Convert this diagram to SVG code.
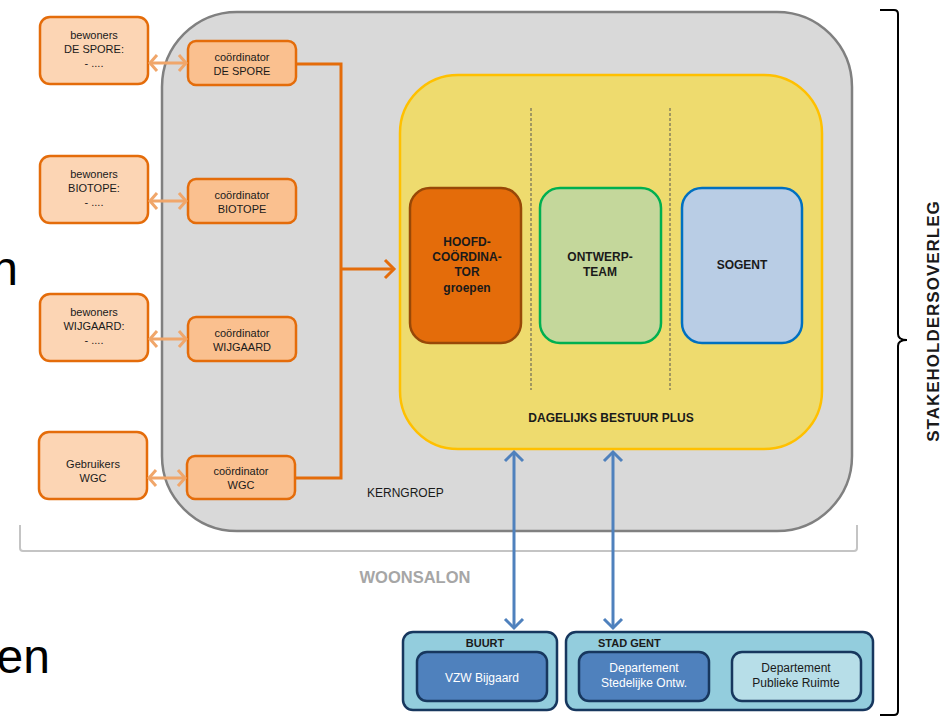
<svg xmlns="http://www.w3.org/2000/svg" width="949" height="719" viewBox="0 0 949 719">
<style>
text{font-family:"Liberation Sans",Arial,sans-serif;fill:#1a1a1a}
.s11{font-size:11px}
.b12{font-size:12px;font-weight:bold}
.r12{font-size:12px}
.bew{fill:#fcd5b4;stroke:#e46c0a;stroke-width:2.5}
.coo{fill:#fac08f;stroke:#e46c0a;stroke-width:2.5}
.dbl{stroke:#f0a66a;stroke-width:3;fill:none}
.bus{stroke:#e46c0a;stroke-width:3;fill:none}
.blu{stroke:#4f81bd;stroke-width:3;fill:none}
.outer{fill:#93cddd;stroke:#17375e;stroke-width:2.5}
.inner{fill:#4f81bd;stroke:#17375e;stroke-width:2.5}
.inner2{fill:#b7dee8;stroke:#17375e;stroke-width:2.5}
.wt{fill:#ffffff}
.lbl{font-size:11px;font-weight:bold}
</style>
<defs>
<marker id="ao" markerUnits="userSpaceOnUse" markerWidth="14" markerHeight="22" refX="9" refY="10" orient="auto-start-reverse">
<path d="M2,2 L9,10 L2,18" fill="none" stroke="#f0a66a" stroke-width="3"/>
</marker>
<marker id="abus" markerUnits="userSpaceOnUse" markerWidth="16" markerHeight="24" refX="11" refY="11" orient="auto">
<path d="M2,2 L11,11 L2,20" fill="none" stroke="#e46c0a" stroke-width="3"/>
</marker>
<marker id="ab" markerUnits="userSpaceOnUse" markerWidth="16" markerHeight="24" refX="11" refY="11" orient="auto-start-reverse">
<path d="M2,2 L11,11 L2,20" fill="none" stroke="#4f81bd" stroke-width="3"/>
</marker>
</defs>
<rect width="949" height="719" fill="#ffffff"/>

<!-- partial texts at left edge -->
<text x="18" y="285" text-anchor="end" style="font-size:48px;fill:#000">n</text>
<text x="50" y="673" text-anchor="end" style="font-size:48px;fill:#000">en</text>

<!-- woonsalon bracket -->
<g id="woonsalon">
<path d="M20,525 V548 Q20,551 23,551 H854 Q857,551 857,548 V525" fill="none" stroke="#c4c4c4" stroke-width="2"/>
<text x="415" y="583" text-anchor="middle" style="font-size:16.5px;font-weight:bold;fill:#a6a6a6">WOONSALON</text>
</g>

<!-- stakeholdersoverleg brace -->
<g id="stakeholdersoverleg">
<path d="M880,10 H894 Q898,10 898,14 V334 Q898,340 907,340 Q898,340 898,346 V711 Q898,715 894,715 H880" fill="none" stroke="#000" stroke-width="2"/>
<text transform="translate(939,321) rotate(-90)" text-anchor="middle" style="font-size:17px;font-weight:bold;letter-spacing:1px">STAKEHOLDERSOVERLEG</text>
</g>

<!-- kerngroep -->
<g id="kerngroep">
<rect x="162" y="12" width="690" height="519" rx="75" fill="#d9d9d9" stroke="#808080" stroke-width="2.5"/>
<text x="367" y="497" class="r12">KERNGROEP</text>
</g>

<!-- dagelijks bestuur plus -->
<g id="dagelijks-bestuur">
<rect x="400" y="75" width="422" height="374" rx="58" fill="#eedb6e" stroke="#ffc000" stroke-width="2.5"/>
<line x1="531" y1="108" x2="531" y2="390" stroke="#555" stroke-width="1" stroke-dasharray="3,2"/>
<line x1="670" y1="108" x2="670" y2="390" stroke="#555" stroke-width="1" stroke-dasharray="3,2"/>
<text x="611" y="422" text-anchor="middle" class="b12">DAGELIJKS BESTUUR PLUS</text>
</g>

<g id="hoofdcoordinator">
<rect x="410" y="188" width="111" height="155" rx="20" fill="#e46c0a" stroke="#984807" stroke-width="2.5"/>
<text x="467" text-anchor="middle" class="b12"><tspan x="467" y="246">HOOFD-</tspan><tspan x="467" y="261">COÖRDINA-</tspan><tspan x="467" y="276">TOR</tspan><tspan x="467" y="292">groepen</tspan></text>
</g>
<g id="ontwerpteam">
<rect x="540" y="188" width="121" height="155" rx="20" fill="#c4d79b" stroke="#00b050" stroke-width="2.5"/>
<text x="600" text-anchor="middle" class="b12"><tspan x="600" y="261">ONTWERP-</tspan><tspan x="600" y="276">TEAM</tspan></text>
</g>
<g id="sogent">
<rect x="682" y="188" width="120" height="155" rx="20" fill="#b9cde5" stroke="#0070c0" stroke-width="2.5"/>
<text x="742" y="269" text-anchor="middle" class="b12">SOGENT</text>
</g>

<!-- bewoners boxes -->
<g id="bewoners-despore">
<rect x="40" y="17" width="108" height="67" rx="10" class="bew"/>
<text text-anchor="middle" class="s11"><tspan x="94" y="39">bewoners</tspan><tspan x="94" y="53">DE SPORE:</tspan><tspan x="94" y="67">- ....</tspan></text>
</g>
<g id="bewoners-biotope">
<rect x="40" y="156" width="108" height="67" rx="10" class="bew"/>
<text text-anchor="middle" class="s11"><tspan x="94" y="178">bewoners</tspan><tspan x="94" y="192">BIOTOPE:</tspan><tspan x="94" y="206">- ....</tspan></text>
</g>
<g id="bewoners-wijgaard">
<rect x="40" y="294" width="108" height="67" rx="10" class="bew"/>
<text text-anchor="middle" class="s11"><tspan x="94" y="316">bewoners</tspan><tspan x="94" y="330">WIJGAARD:</tspan><tspan x="94" y="344">- ....</tspan></text>
</g>
<g id="gebruikers-wgc">
<rect x="39" y="432" width="108" height="67" rx="10" class="bew"/>
<text text-anchor="middle" class="s11"><tspan x="93" y="468">Gebruikers</tspan><tspan x="93" y="482">WGC</tspan></text>
</g>

<!-- coordinator boxes -->
<g id="coordinator-despore">
<rect x="188" y="41" width="108" height="44" rx="8" class="coo"/>
<text text-anchor="middle" class="s11"><tspan x="242" y="61">coördinator</tspan><tspan x="242" y="75">DE SPORE</tspan></text>
</g>
<g id="coordinator-biotope">
<rect x="188" y="179" width="108" height="44" rx="8" class="coo"/>
<text text-anchor="middle" class="s11"><tspan x="242" y="199">coördinator</tspan><tspan x="242" y="213">BIOTOPE</tspan></text>
</g>
<g id="coordinator-wijgaard">
<rect x="188" y="317" width="108" height="44" rx="8" class="coo"/>
<text text-anchor="middle" class="s11"><tspan x="242" y="337">coördinator</tspan><tspan x="242" y="351">WIJGAARD</tspan></text>
</g>
<g id="coordinator-wgc">
<rect x="187" y="456" width="108" height="43" rx="8" class="coo"/>
<text text-anchor="middle" class="s11"><tspan x="241" y="475">coördinator</tspan><tspan x="241" y="489">WGC</tspan></text>
</g>

<!-- bottom stakeholder boxes -->
<g id="buurt">
<rect x="403" y="632" width="154" height="78" rx="10" class="outer"/>
<text x="485" y="647" text-anchor="middle" class="lbl">BUURT</text>
</g>
<g id="vzw-bijgaard">
<rect x="417" y="652" width="130" height="49" rx="10" class="inner"/>
<text x="482" y="682" text-anchor="middle" class="r12 wt">VZW Bijgaard</text>
</g>
<g id="stad-gent">
<rect x="566" y="632" width="307" height="78" rx="10" class="outer"/>
<text x="598" y="647" class="lbl">STAD GENT</text>
</g>
<g id="dep-stedelijke-ontw">
<rect x="579" y="652" width="130" height="49" rx="10" class="inner"/>
<text text-anchor="middle" class="r12 wt"><tspan x="644" y="672">Departement</tspan><tspan x="644" y="687">Stedelijke Ontw.</tspan></text>
</g>
<g id="dep-publieke-ruimte">
<rect x="732" y="652" width="129" height="49" rx="10" class="inner2"/>
<text text-anchor="middle" class="r12"><tspan x="796" y="672">Departement</tspan><tspan x="796" y="687">Publieke Ruimte</tspan></text>
</g>

<!-- connectors -->
<g id="connectors">
<line x1="150" y1="63" x2="186" y2="63" class="dbl" marker-start="url(#ao)" marker-end="url(#ao)"/>
<line x1="150" y1="201" x2="186" y2="201" class="dbl" marker-start="url(#ao)" marker-end="url(#ao)"/>
<line x1="150" y1="339" x2="186" y2="339" class="dbl" marker-start="url(#ao)" marker-end="url(#ao)"/>
<line x1="149" y1="478" x2="185" y2="478" class="dbl" marker-start="url(#ao)" marker-end="url(#ao)"/>
<path d="M297,64 H341 V478 H296" class="bus"/>
<line x1="341" y1="269" x2="394" y2="269" class="bus" marker-end="url(#abus)"/>
<line x1="514" y1="452" x2="514" y2="628" class="blu" marker-start="url(#ab)" marker-end="url(#ab)"/>
<line x1="613" y1="452" x2="613" y2="628" class="blu" marker-start="url(#ab)" marker-end="url(#ab)"/>
</g>
</svg>
